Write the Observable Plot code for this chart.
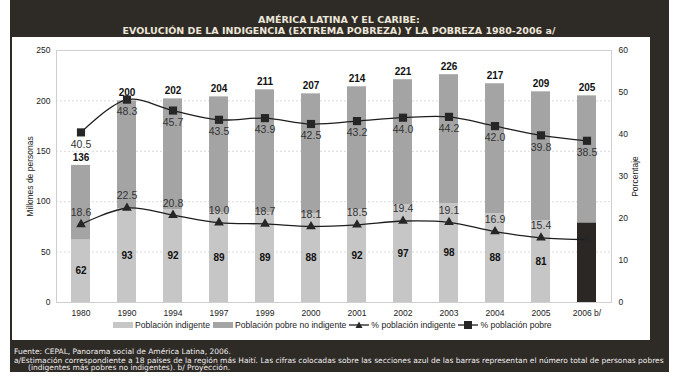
<!DOCTYPE html>
<html><head><meta charset="utf-8">
<script src="https://cdn.jsdelivr.net/npm/d3@7"></script>
<script src="https://cdn.jsdelivr.net/npm/@observablehq/plot@0.6"></script>
<style>
html,body{margin:0;padding:0;background:#fff;}
#page{position:relative;width:677px;height:380px;overflow:hidden;background:#fff;}
#frame{position:absolute;left:10px;top:0;width:659px;height:372px;background:#2e2a26;}
#panel{position:absolute;left:12px;top:37px;width:638px;height:303px;background:#fff;}
.title{position:absolute;left:20px;width:638px;text-align:center;font-family:"DejaVu Sans",sans-serif;font-weight:bold;font-size:9.5px;color:#ece6d8;white-space:nowrap;}
#chart{position:absolute;left:12px;top:37px;}
#legend{position:absolute;left:113px;top:320px;display:flex;align-items:center;font-family:"Liberation Sans",Arial,sans-serif;font-size:8.6px;color:#222;white-space:nowrap;}
#legend svg{margin-right:2px;}
#legend span{margin-right:3px;}
.foot{position:absolute;left:14px;font-family:"DejaVu Sans",sans-serif;font-size:7.5px;color:#eee;white-space:nowrap;}
</style></head>
<body><div id="page">
<div id="frame"></div>
<div id="panel"></div>
<div class="title" style="top:14px">AMÉRICA LATINA Y EL CARIBE:</div>
<div class="title" style="top:25px">EVOLUCIÓN DE LA INDIGENCIA (EXTREMA POBREZA) Y LA POBREZA 1980-2006 a/</div>
<div id="chart"></div>
<div id="legend"></div>
<div class="foot" style="top:347px">Fuente: CEPAL, Panorama social de América Latina, 2006.</div>
<div class="foot" style="top:355.5px">a/Estimación correspondiente a 18 países de la región más Haití. Las cifras colocadas sobre las secciones azul de las barras representan el número total de personas pobres</div>
<div class="foot" style="top:363px;left:28px">(indigentes más pobres no indigentes). b/ Proyección.</div>
</div>
<script>
const years = ["1980","1990","1994","1997","1999","2000","2001","2002","2003","2004","2005","2006 b/"];
const totalPobres = [136,200,202,204,211,207,214,221,226,217,209,205];
const indigentes = [62,93,92,89,89,88,92,97,98,88,81,79];
const pctPobreza = [40.5,48.3,45.7,43.5,43.9,42.5,43.2,44.0,44.2,42.0,39.8,38.5];
const pctIndigencia = [18.6,22.5,20.8,19.0,18.7,18.1,18.5,19.4,19.1,16.9,15.4,15.0];
const projected = [false,false,false,false,false,false,false,false,false,false,false,true];
const leftTicks = [0,50,100,150,200,250];
const pctTicks = [0,10,20,30,40,50,60];

const K = 250/60; // percent -> left scale units
const data = years.map((y,i)=>({year:y,total:totalPobres[i],ind:indigentes[i],pp:pctPobreza[i],pi:pctIndigencia[i],proj:projected[i]}));
const shown = data.filter(d=>!d.proj);

const colIndig = "#c6c6c6", colNoIndig = "#a4a4a4", colDark = "#2b2725";

const chart = Plot.plot({
  width: 638, height: 285,
  marginTop: 13, marginBottom: 20, marginLeft: 44, marginRight: 39,
  style: {fontFamily: "'Liberation Sans', Arial, sans-serif", fontSize: "8.5px", color: "#222", background: "transparent", overflow: "visible"},
  x: {type: "band", domain: years, paddingInner: 0.59, paddingOuter: 0.29, label: null},
  y: {domain: [0, 250], label: null},
  marks: [
    Plot.gridY([50,100,150,200], {stroke: "#999", strokeOpacity: 0.35, strokeDasharray: "2,2"}),
    Plot.frame({stroke: "#cfcfcf"}),
    Plot.axisY(leftTicks, {anchor: "left", tickSize: 0, tickPadding: 6, label: "Millones de personas", labelAnchor: "center", labelOffset: 30, labelArrow: "none"}),
    Plot.axisY(pctTicks.map(p => p*K), {anchor: "right", tickSize: 0, tickPadding: 7, tickFormat: d => String(Math.round(d/K)), label: "Porcentaje", labelAnchor: "center", labelOffset: 26, labelArrow: "none"}),
    Plot.axisX({tickSize: 0, tickPadding: 7, label: null, fontSize: 8.5}),
    Plot.barY(data, {x: "year", y1: 0, y2: "ind", fill: d => d.proj ? colDark : colIndig}),
    Plot.barY(data, {x: "year", y1: "ind", y2: "total", fill: colNoIndig}),
    Plot.line(data, {x: "year", y: d => d.pp*K, curve: "catmull-rom", stroke: "#1e1e1e", strokeWidth: 1.3}),
    Plot.line(data, {x: "year", y: d => d.pi*K, curve: "catmull-rom", stroke: "#1e1e1e", strokeWidth: 1.3}),
    Plot.dot(data, {x: "year", y: d => d.pp*K, symbol: "square", r: 4.6, fill: "#262626", stroke: "none"}),
    Plot.dot(data, {x: "year", y: d => d.pi*K, symbol: "triangle", r: 3.6, fill: "#262626", stroke: "none"}),
    Plot.text(data, {x: "year", y: "total", text: d => String(d.total), dy: -8, fontWeight: "bold", fontSize: 10, fill: "#111"}),
    Plot.text(data, {x: "year", y: d => d.pp*K, text: d => d.pp.toFixed(1), dy: 12, fontSize: 10.5, fill: "#333"}),
    Plot.text(shown, {x: "year", y: d => d.pi*K, text: d => d.pi.toFixed(1), dy: -12, fontSize: 10.5, fill: "#333"}),
    Plot.text(shown, {x: "year", y: d => d.ind/2, text: d => String(d.ind), fontWeight: "bold", fontSize: 10, fill: "#111"})
  ]
});
document.getElementById("chart").appendChild(chart);

// legend
const legendItems = [
  {label: "Población indigente", kind: "bar", color: colIndig},
  {label: "Población pobre no indigente", kind: "bar", color: colNoIndig},
  {label: "% población indigente", kind: "tri"},
  {label: "% población pobre", kind: "sq"}
];
const lg = document.getElementById("legend");
for (const it of legendItems) {
  const ns = "http://www.w3.org/2000/svg";
  const s = document.createElementNS(ns, "svg");
  s.setAttribute("width", 20);
  s.setAttribute("height", 10);
  if (it.kind === "bar") {
    s.innerHTML = `<rect x="0" y="2" width="20" height="6" fill="${it.color}"/>`;
  } else if (it.kind === "tri") {
    s.innerHTML = `<line x1="0" y1="5" x2="20" y2="5" stroke="#1e1e1e" stroke-width="1.3"/><path d="M10,1.5 L13.5,8 L6.5,8 Z" fill="#262626"/>`;
  } else {
    s.innerHTML = `<line x1="0" y1="5" x2="20" y2="5" stroke="#1e1e1e" stroke-width="1.3"/><rect x="6" y="1" width="8" height="8" fill="#262626"/>`;
  }
  lg.appendChild(s);
  const sp = document.createElement("span");
  sp.textContent = it.label;
  lg.appendChild(sp);
}
</script>
</body></html>
